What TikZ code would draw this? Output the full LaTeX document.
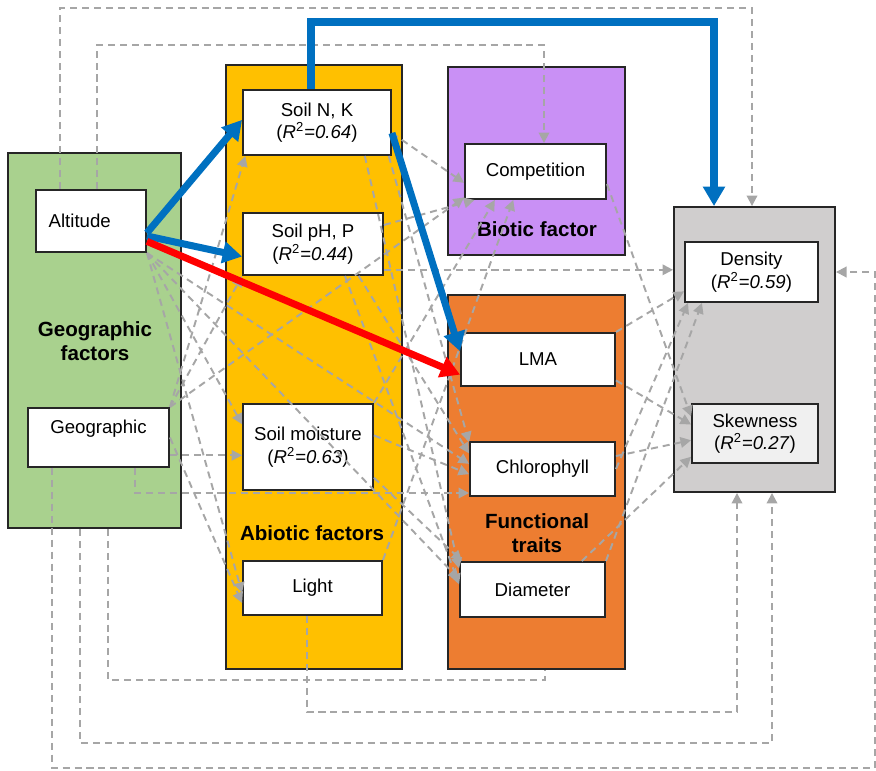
\documentclass[tikz,border=0pt]{standalone}
\usepackage{fontspec}
\setmainfont{Liberation Sans}
\usetikzlibrary{arrows.meta}
\definecolor{geogreen}{HTML}{A9D18E}
\definecolor{abioyellow}{HTML}{FFC000}
\definecolor{biopurple}{HTML}{C990F5}
\definecolor{traitorange}{HTML}{ED7D31}
\definecolor{respgray}{HTML}{D0CECE}
\definecolor{pathblue}{HTML}{0070C0}
\definecolor{dashgray}{HTML}{A6A6A6}
\newcommand{\rsq}[1]{(\textit{R}\textsuperscript{2}\textit{=#1})}

\begin{document}
\begin{tikzpicture}[x=0.02cm, y=-0.02cm,
    grp/.style = {draw=black!85, line width=1.1pt, inner sep=0pt},
    var/.style = {draw=black!85, fill=white, line width=1.1pt, inner sep=0pt, align=center, font=\fontsize{10.6}{12.8}\selectfont},
    glabel/.style = {font=\fontsize{11.7}{13.6}\selectfont\bfseries, align=center},
    dep/.style = {draw=dashgray, line width=1.1pt, dash pattern=on 4pt off 2.8pt, -{Triangle[length=6pt,width=6pt]}},
    strong/.style = {line width=4pt, -{Triangle[length=11pt,width=12pt]}}]
    \useasboundingbox (0,0) rectangle (876,771);

    \node[grp, fill=geogreen, minimum width=3.46cm, minimum height=7.5cm] (geo) at (94.5,340.5) {};
    \node[grp, fill=abioyellow, minimum width=3.52cm, minimum height=12.08cm] (abio) at (314,367) {};
    \node[grp, fill=biopurple, minimum width=3.54cm, minimum height=3.76cm] (bio) at (536.5,161) {};
    \node[grp, fill=traitorange, minimum width=3.54cm, minimum height=7.48cm] (trait) at (536.5,482) {};
    \node[grp, fill=respgray, minimum width=3.22cm, minimum height=5.7cm] (resp) at (754.5,349.5) {};

    \node[glabel] (geolab) at (95,341) {Geographic\\factors};
    \node[glabel] (abiolab) at (312,533) {Abiotic factors};
    \node[glabel] (biolab) at (537,229) {Biotic factor};
    \node[glabel] (traitlab) at (537,533) {Functional\\traits};

    \node[var, minimum width=2.2cm, minimum height=1.24cm] (alt) at (91,221) {Altitude\hspace*{0.45cm}};
    \node[var, minimum width=2.82cm, minimum height=1.18cm] (geog) at (98.5,437.5) {Geographic\\\mbox{}};
    \node[var, minimum width=2.96cm, minimum height=1.3cm] (nk) at (317,122.5) {Soil N, K\\\rsq{0.64}};
    \node[var, minimum width=2.8cm, minimum height=1.24cm] (ph) at (313,244) {Soil pH, P\\\rsq{0.44}};
    \node[var, minimum width=2.6cm, minimum height=1.72cm] (moist) at (308,447) {Soil moisture\\\rsq{0.63}};
    \node[var, minimum width=2.78cm, minimum height=1.08cm] (light) at (312.5,588) {Light};
    \node[var, minimum width=2.82cm, minimum height=1.1cm] (comp) at (535.5,171.5) {Competition};
    \node[var, minimum width=3.08cm, minimum height=1.06cm] (lma) at (538,359.5) {LMA};
    \node[var, minimum width=2.9cm, minimum height=1.08cm] (chl) at (542.5,469) {Chlorophyll};
    \node[var, minimum width=2.9cm, minimum height=1.1cm] (diam) at (532.5,589.5) {Diameter};
    \node[var, minimum width=2.66cm, minimum height=1.2cm] (dens) at (751.5,272) {Density\\\rsq{0.59}};
    \node[var, fill=gray!12, minimum width=2.52cm, minimum height=1.18cm] (skew) at (755,433.5) {Skewness\\\rsq{0.27}};

    \coordinate (topa) at (60,8);   \coordinate (topb) at (752,8);
    \coordinate (topc) at (97,45);  \coordinate (topd) at (544,45);
    \coordinate (tope) at (311,22); \coordinate (topf) at (714,22);
    \coordinate (bota) at (52,768); \coordinate (botb) at (875,768);
    \coordinate (botc) at (80,743); \coordinate (botd) at (772,743);
    \coordinate (bote) at (108,680); \coordinate (botf) at (545,680);
    \coordinate (botg) at (307,712); \coordinate (both) at (737,712);
    \coordinate (boti) at (135,493);

    \draw[dep] (alt.north -| topa) -- (topa) -- (topb) -- (topb |- resp.north);
    \draw[dep] (alt.north -| topc) -- (topc) -- (topd) -- (topd |- comp.north);
    \draw[dep] (geog.south -| bota) -- (bota) -- (botb) -- (botb |- dens.east) -- (resp.east |- dens.east);
    \draw[dep] (geo.south -| botc) -- (botc) -- (botd) -- (botd |- resp.south);
    \draw[dep, -] (geo.south -| bote) -- (bote) -- (botf) -- (botf |- trait.south);
    \draw[dep] (light.south -| botg) -- (botg) -- (both) -- (both |- resp.south);
    \draw[dep] (geog.south -| boti) -- (boti) -- (boti -| chl.west);

    \draw[dep] (alt.south east) -- (moist.161);
    \draw[dep] (alt.south east) -- (light.184);
    \draw[dep] (alt.south east) -- (chl.176);
    \draw[dep] (alt.south east) -- (diam.172);
    \draw[dep] (geog.north east) -- (nk.205);
    \draw[dep] (geog.north east) -- (ph.south west);
    \draw[dep] (geog.-14) -- (geog.-14 -| moist.west);
    \draw[dep] (geog.north east) -- (comp.200);
    \draw[dep] (geog.east) -- (light.192);
    \draw[dep] (nk.-8) -- (comp.189);
    \draw[dep] (nk.-25) -- (chl.160);
    \draw[dep] (nk.-35) -- (diam.164);
    \draw[dep] (ph.15) -- (comp.205);
    \draw[dep] (ph.-20) -- (ph.-20 -| resp.west);
    \draw[dep] (ph.-35) -- (chl.168);
    \draw[dep] (ph.-45) -- (diam.176);
    \draw[dep] (moist.north east) -- (comp.215);
    \draw[dep] (moist.10) -- (chl.184);
    \draw[dep] (moist.-25) -- (diam.158);
    \draw[dep] (light.north east) -- (comp.232);
    \draw[dep] (comp.-10) -- (skew.165);
    \draw[dep] (lma.north east) -- (dens.196);
    \draw[dep] (lma.-15) -- (skew.172);
    \draw[dep] (chl.east) -- (dens.206);
    \draw[dep] (chl.10) -- (skew.186);
    \draw[dep] (diam.north east) -- (dens.212);
    \draw[dep] (diam.30) -- (skew.200);

    \draw[strong, pathblue] (nk.north -| tope) -- (tope) -- (topf) -- (topf |- resp.north);
    \draw[strong, pathblue] (nk.-8) -- (lma.174);
    \draw[strong, pathblue] (alt.-12) -- (nk.178);
    \draw[strong, pathblue] (alt.-15) -- (ph.190);
    \draw[strong, red] (alt.-20) -- (lma.191);
\end{tikzpicture}
\end{document}
